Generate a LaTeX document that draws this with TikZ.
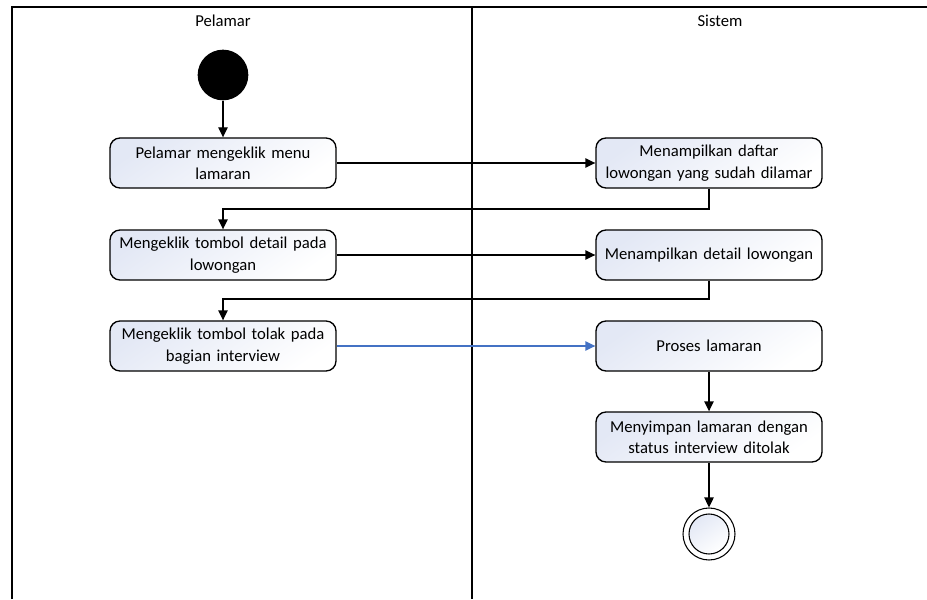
\documentclass[tikz,border=0pt]{standalone}
\usepackage{fontspec}
\setmainfont{Carlito}
\usetikzlibrary{arrows.meta,positioning}
\definecolor{boxfill}{HTML}{E3E8F5}
\definecolor{flowblue}{HTML}{4472C4}
\begin{document}
\begin{tikzpicture}[x=0.75pt,y=-0.75pt,
  act/.style={draw=black, line width=1pt, rounded corners=7.5pt,
    top color=boxfill, bottom color=white, shading angle=35,
    minimum width=169.5pt, minimum height=37.5pt, text width=160pt,
    align=center, inner sep=2pt, font=\fontsize{12.5}{16}\selectfont},
  flow/.style={line width=1pt, -{Triangle[length=7.5pt,width=7pt]}},
  lane/.style={line width=1.1pt},
  lanehead/.style={font=\fontsize{12.5}{14}\selectfont}]
\useasboundingbox (0,0) rectangle (927,599);
% swimlanes
\draw[lane] (12,599) -- (12,7) -- (927,7);
\draw[lane] (472,7) -- (472,599);
\node[lanehead] (hp) at (223,21) {Pelamar};
\node[lanehead] (hs) at (720,21) {Sistem};
% start and end
\node[circle, fill=black, minimum size=38pt, inner sep=0] (start) at (223,75) {};
\node[circle, draw=black, line width=0.8pt, minimum size=39pt, inner sep=0] (endo) at (709,534) {};
\node[circle, draw=black, line width=0.8pt, top color=boxfill, bottom color=white, shading angle=35,
  minimum size=30pt, inner sep=0] (endi) at (709,534) {};
% activities
\node[act] (a1) at (223,163) {Pelamar mengeklik menu\\lamaran};
\node[act] (a2) at (223,255) {Mengeklik tombol detail pada\\lowongan};
\node[act] (a3) at (223,346) {Mengeklik tombol tolak pada\\bagian interview};
\node[act] (s1) at (709,163) {Menampilkan daftar\\lowongan yang sudah dilamar};
\node[act] (s2) at (709,255) {Menampilkan detail lowongan};
\node[act] (s3) at (709,346) {Proses lamaran};
\node[act] (s4) at (709,437) {Menyimpan lamaran dengan\\status interview ditolak};
% connectors
\draw[flow] (start) -- (a1);
\draw[flow] (a1) -- (s1);
\draw[flow] (s1.south) -- (s1.south |- 0,209) -- (a2.north |- 0,209) -- (a2.north);
\draw[flow] (a2) -- (s2);
\draw[flow] (s2.south) -- (s2.south |- 0,299) -- (a3.north |- 0,299) -- (a3.north);
\draw[flow, draw=flowblue, fill=flowblue] (a3) -- (s3);
\draw[flow] (s3) -- (s4);
\draw[flow] (s4) -- (endo);
\end{tikzpicture}
\end{document}
